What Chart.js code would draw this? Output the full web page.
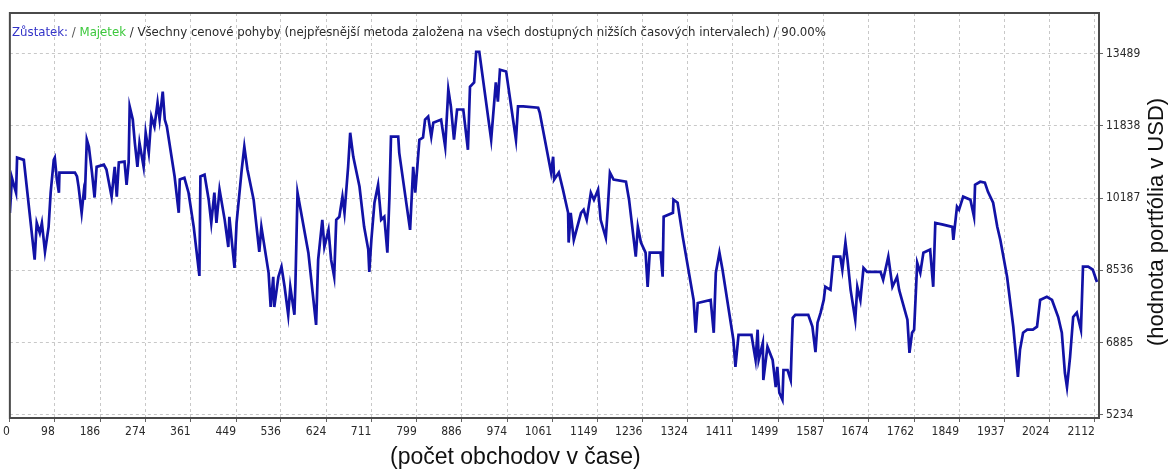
<!DOCTYPE html>
<html>
<head>
<meta charset="utf-8">
<script src="https://cdn.jsdelivr.net/npm/chart.js@4.4.0/dist/chart.umd.min.js"></script>
<style>
  html, body { margin: 0; padding: 0; background: #fff; }
</style>
</head>
<body>
<canvas id="equityChart" width="1169" height="472"></canvas>
<script>
// trade number -> account balance
const trades = [
  11,15,23,25,38,59,63,69,73,79,
  86,90,96,98,102,106,107,112,137,141,
  144,150,154,156,160,164,170,175,179,193,
  198,208,214,218,222,233,237,241,243,249,
  253,258,262,270,274,280,285,291,297,301,
  307,311,315,330,338,340,349,357,367,378,
  380,388,396,401,407,411,417,427,434,436,
  446,450,460,465,471,483,494,498,512,516,
  521,523,531,537,543,550,554,562,564,568,
  574,589,604,608,616,620,628,633,639,643,
  649,655,659,666,670,676,688,697,705,707,
  711,717,724,730,736,742,746,749,763,765,
  786,792,796,800,804,811,815,821,827,831,
  846,854,860,865,871,877,889,898,902,910,
  914,920,943,952,956,960,972,991,995,1005,
  1034,1037,1059,1063,1065,1074,1082,1092,1093,1097,
  1103,1117,1122,1128,1136,1142,1150,1155,1165,1169,
  1173,1180,1204,1210,1223,1227,1233,1242,1246,1250,
  1271,1275,1277,1295,1296,1304,1314,1335,1339,1343,
  1368,1374,1378,1385,1391,1412,1416,1422,1447,1455,
  1459,1461,1469,1470,1478,1488,1494,1497,1501,1507,
  1509,1517,1523,1525,1527,1532,1557,1565,1571,1575,
  1581,1587,1590,1600,
  1606,1619,1623,1629,1633,1639,1648,1652,1658,1664,
  1671,1697,1702,1712,1720,1729,1733,1749,1753,1758,
  1762,1768,1774,1780,1793,1799,1803,1818,1836,1838,
  1845,1849,1857,1871,1878,1880,1890,1899,1905,1915,
  1923,1929,1942,1954,1963,1967,1973,1981,1992,2000,
  2006,2019,2029,2041,2048,2054,2058,2064,2070,2077,
  2085,2089,2099,2108,2116
];

const balance = [
  9850,10650,10310,11110,11060,8780,9620,9390,9620,8960,
  9530,10310,11060,11110,10610,10310,10770,10770,10770,10680,
  10450,9850,10310,10150,11520,11360,10770,10200,10900,10950,
  10840,10220,10900,10220,11000,11020,10490,11000,12280,11980,
  11450,10900,11450,10900,11680,11220,12050,11820,12370,11980,
  12620,11980,11820,10680,9850,10610,10650,10310,9530,8410,
  10680,10720,10150,9620,10310,9620,10380,9690,9070,9760,
  8590,9620,10840,11360,10840,10150,8960,9530,8480,7700,
  8390,7700,8390,8620,8160,7520,8160,7520,8250,10310,
  9920,8940,7290,8780,9690,9070,9460,8780,8390,9690,
  9760,10220,9850,10900,11680,11130,10450,9530,9010,8500,
  9230,10080,10490,9690,9760,8940,10220,11590,11590,11220,
  9460,10900,10310,10900,11520,11570,11980,12050,11590,11910,
  11980,11360,12670,12280,11520,12210,12210,11290,12730,12830,
  13530,13530,11520,12830,12390,13120,13080,11520,12280,12280,
  12250,12140,10770,11130,10610,10770,10380,9850,9170,9850,
  9230,9850,9920,9690,10310,10150,10380,9690,9280,9990,
  10770,10610,10560,10150,8850,9530,9170,8940,8160,8940,
  8940,8390,9760,9850,10150,10080,9300,7860,7110,7790,
  7860,7110,8480,8940,8550,6950,6330,7060,7060,6490,
  7180,6490,6880,6030,6790,6490,5870,6330,5740,5580,
  6260,6260,6030,6790,7450,7520,7520,7250,6670,7340,
  7570,7860,8160,8090,
  8850,8850,8550,9170,8780,8090,7410,8160,7860,8590,
  8500,8500,8320,8850,8160,8390,8090,7410,6650,7110,
  7180,8710,8480,8940,9010,8160,9620,9580,9530,9230,
  9990,9920,10220,10150,9760,10490,10560,10540,10330,10080,
  9530,9230,8390,7250,6100,6720,7110,7180,7180,7250,
  7860,7930,7860,7470,7110,6190,5870,6560,7470,7570,
  7180,8620,8620,8550,8270
];

const xTickValues = [0,98,186,274,361,449,536,624,711,799,886,974,1061,1149,
  1236,1324,1411,1499,1587,1674,1762,1849,1937,2024,2112];
const yTickValues = [5234,6885,8536,10187,11838,13489];

const headerParts = [
  { text: "Zůstatek:", color: "#3434c8" },
  { text: " / ", color: "#555555" },
  { text: "Majetek", color: "#3cc83c" },
  { text: " / Všechny cenové pohyby (nejpřesnější metoda založena na všech dostupných nižších časových intervalech) / 90.00%", color: "#2a2a2a" }
];
const xTitle = "(počet obchodov v čase)";
const yTitle = "(hodnota portfólia v USD)";

const tickFont = { family: "'DejaVu Sans Condensed', 'Liberation Sans', sans-serif", size: 12 };

// frame, header line and axis titles
const decorPlugin = {
  id: "decor",
  afterDraw(chart) {
    const { ctx, chartArea: a } = chart;
    ctx.save();
    ctx.strokeStyle = "#4a4a4a";
    ctx.lineWidth = 2;
    ctx.strokeRect(a.left, a.top, a.right - a.left, a.bottom - a.top);

    // header, squeezed to the width it has in the tester
    ctx.font = "13px 'DejaVu Sans Condensed', 'Liberation Sans', sans-serif";
    ctx.textBaseline = "middle";
    ctx.textAlign = "left";
    const total = headerParts.reduce((s, p) => s + ctx.measureText(p.text).width, 0);
    ctx.save();
    ctx.translate(12, 33);
    ctx.scale(814 / total, 1);
    let x = 0;
    headerParts.forEach(p => {
      ctx.fillStyle = p.color;
      ctx.fillText(p.text, x, 0);
      x += ctx.measureText(p.text).width;
    });
    ctx.restore();

    ctx.fillStyle = "#111";
    ctx.font = "23px 'Liberation Sans', Arial, sans-serif";
    ctx.fillText(xTitle, 390, 458);

    ctx.font = "22px 'Liberation Sans', Arial, sans-serif";
    ctx.translate(1157, 222);
    ctx.rotate(-Math.PI / 2);
    ctx.textAlign = "center";
    ctx.fillText(yTitle, 0, 0);
    ctx.restore();
  }
};

new Chart(document.getElementById("equityChart").getContext("2d"), {
  type: "line",
  data: {
    datasets: [{
      label: "Zůstatek",
      data: trades.map((t, i) => ({ x: t, y: balance[i] })),
      borderColor: "#1212a6",
      borderWidth: 2.7,
      pointRadius: 0,
      tension: 0,
      fill: false
    }]
  },
  options: {
    responsive: false,
    animation: false,
    layout: { padding: { left: 8, top: 13, right: 0, bottom: 0 } },
    plugins: { legend: { display: false }, tooltip: { enabled: false } },
    scales: {
      x: {
        type: "linear",
        min: 11,
        max: 2120,
        afterBuildTicks: s => { s.ticks = xTickValues.map(v => ({ value: Math.max(v, s.min) })); },
        afterFit: s => { s.height = 54; },
        ticks: {
          autoSkip: false, maxRotation: 0, align: "end", padding: 3,
          color: "#2a2a2a", font: tickFont,
          callback: (v, i) => String(xTickValues[i])
        },
        grid: { color: "#c8c8c8", lineWidth: 1, tickLength: 4, tickColor: "#666", tickBorderDash: [] },
        border: { display: false, dash: [3, 3] }
      },
      y: {
        position: "right",
        min: 5163,
        max: 14415,
        afterBuildTicks: s => { s.ticks = yTickValues.map(v => ({ value: v })); },
        afterFit: s => { s.width = 70; },
        ticks: { padding: 3, color: "#2a2a2a", font: tickFont, callback: v => String(v) },
        grid: { color: "#c8c8c8", lineWidth: 1, tickLength: 4, tickColor: "#666", tickBorderDash: [] },
        border: { display: false, dash: [3, 3] }
      }
    }
  },
  plugins: [decorPlugin]
});
</script>
</body>
</html>
